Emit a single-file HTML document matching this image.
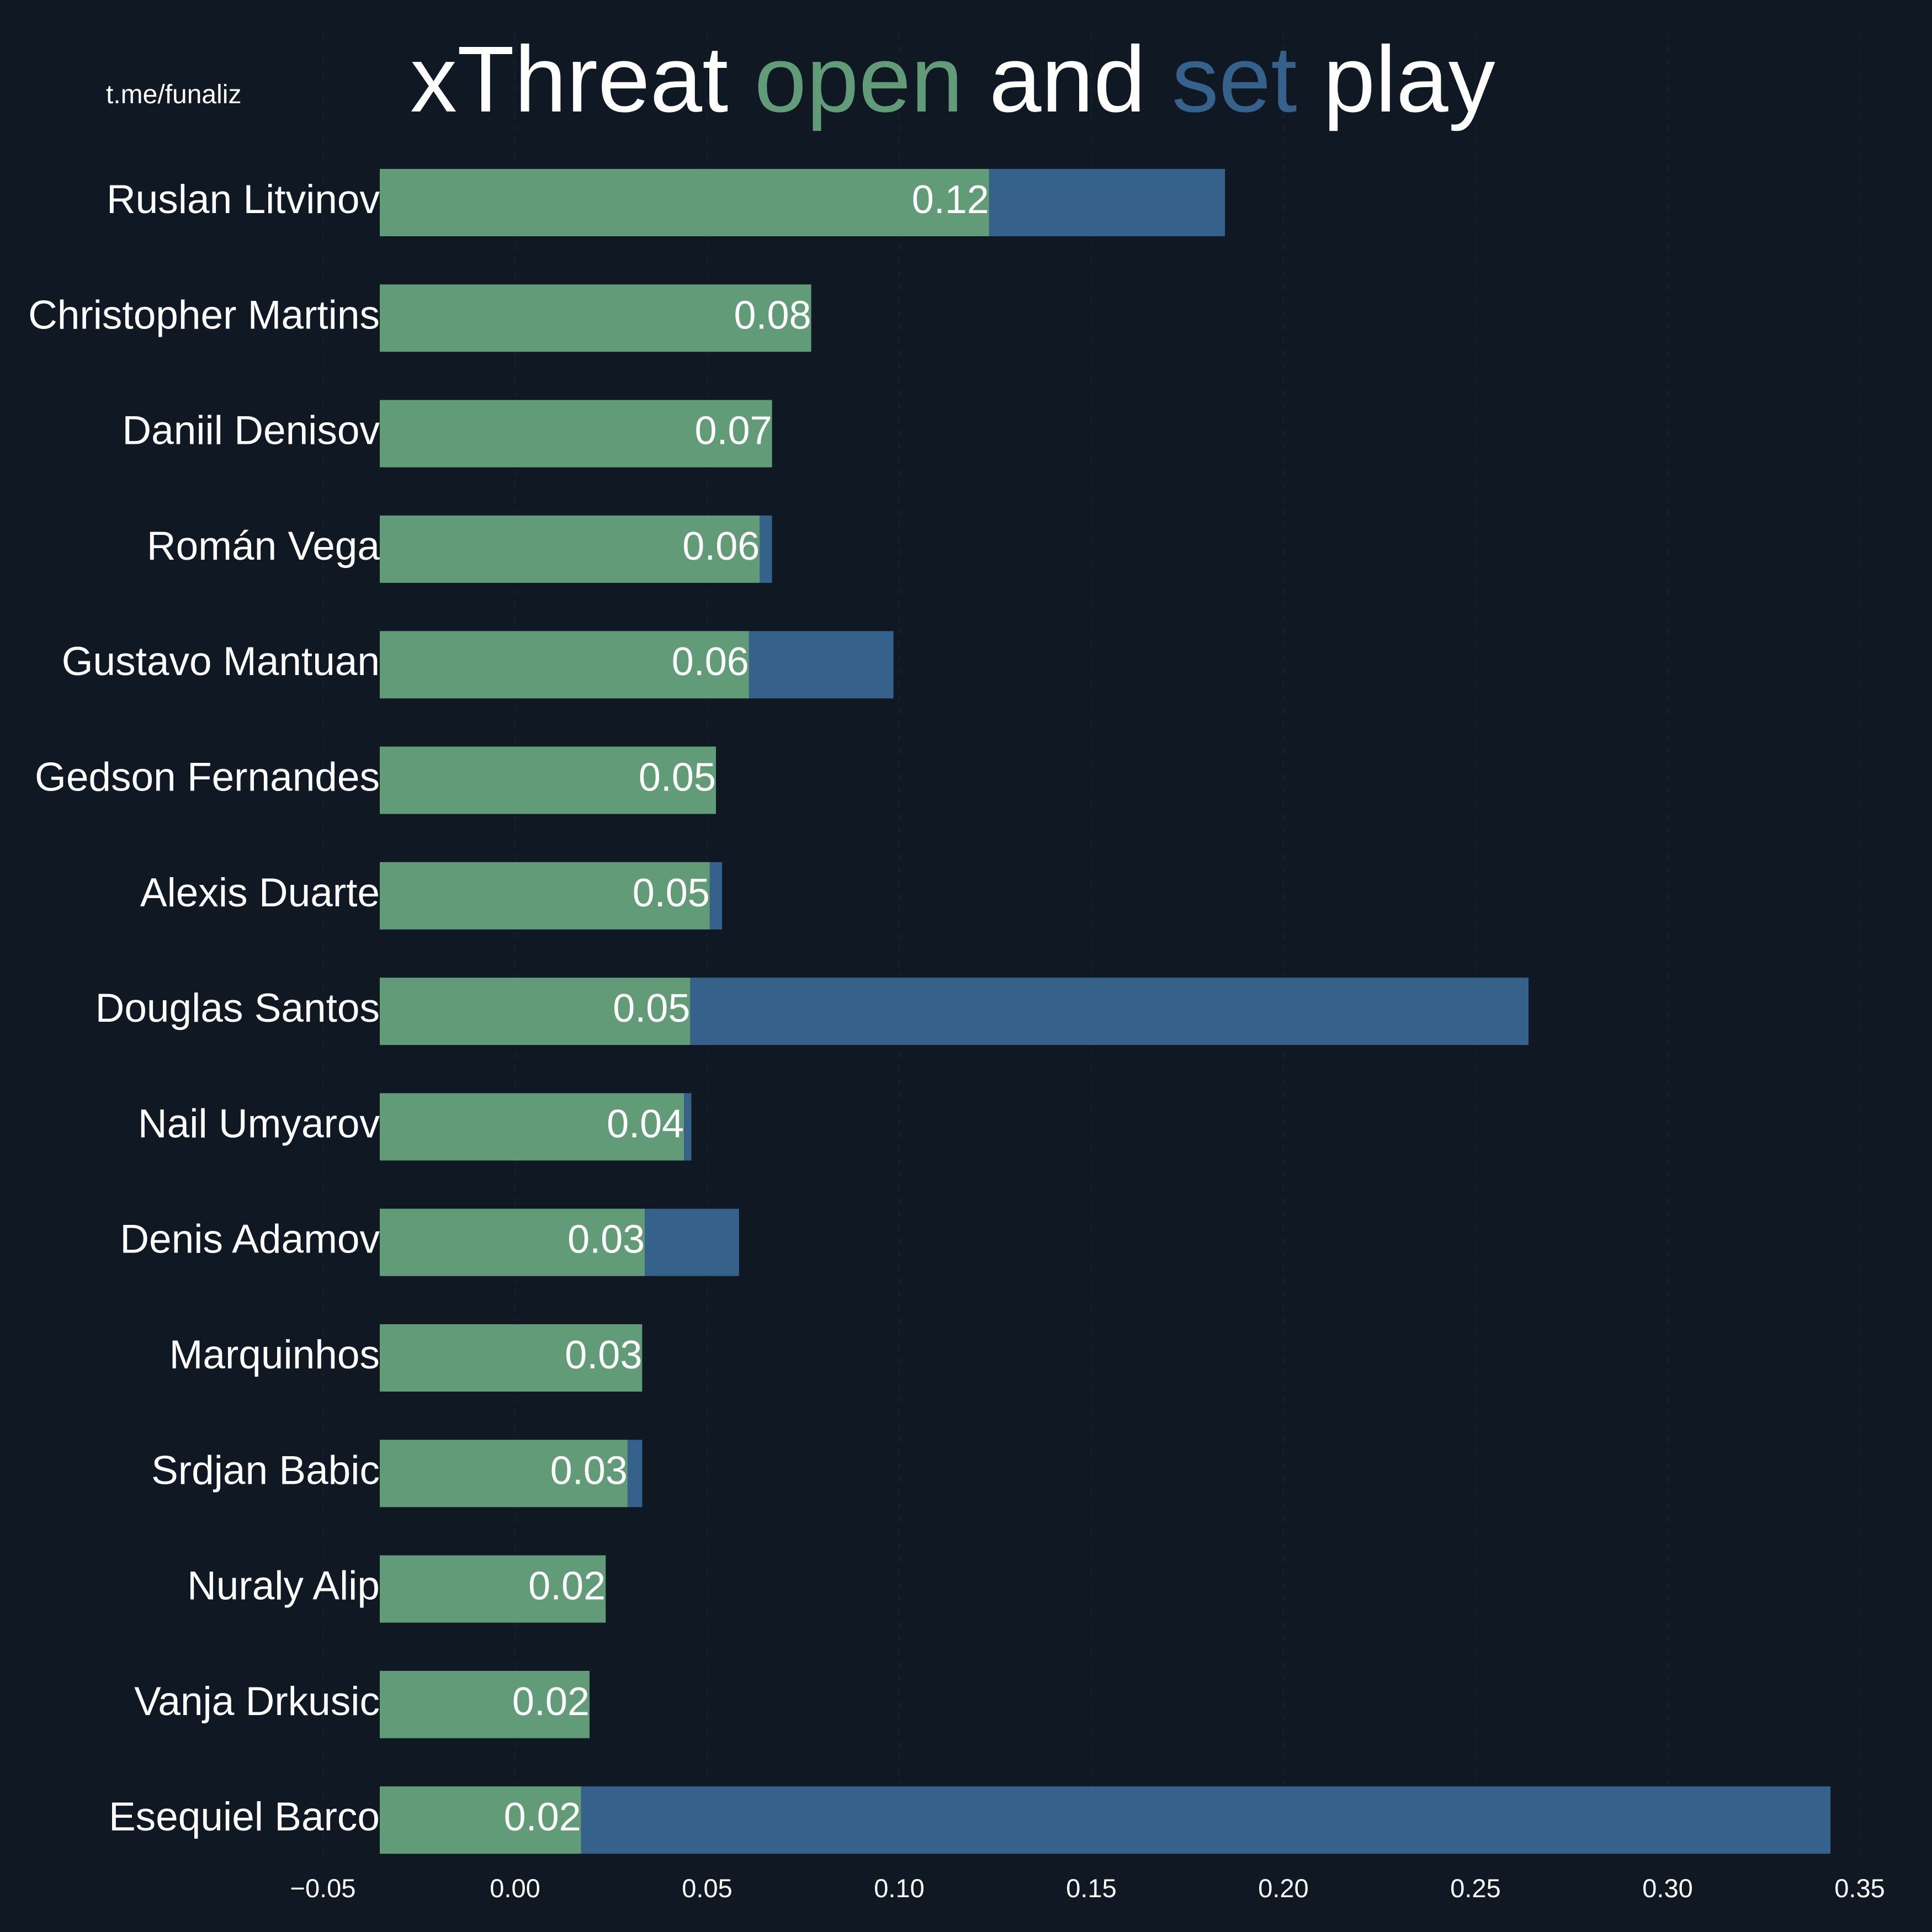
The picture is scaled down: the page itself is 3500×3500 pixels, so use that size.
<!DOCTYPE html>
<html><head><meta charset="utf-8">
<style>
html,body{margin:0;padding:0;background:#0f1823;}
svg{display:block;font-family:"Liberation Sans",sans-serif;}
</style></head>
<body>
<svg id="chart" width="3500" height="3500" viewBox="0 0 3500 3500" xmlns="http://www.w3.org/2000/svg">
<rect x="0" y="0" width="3500" height="3500" fill="#0f1823"/>
<g id="grid"></g>
<text x="192" y="187" font-size="48" fill="#ffffff">t.me/funaliz</text>
<text x="743" y="202" font-size="170" fill="#ffffff">xThreat <tspan fill="#619b77">open</tspan> and <tspan fill="#36618b">set</tspan> play</text>
<g id="bars"></g>
<g id="ylabels"></g>
<g id="xticks"></g>
</svg>
<script>
const players = ["Ruslan Litvinov","Christopher Martins","Daniil Denisov","Román Vega","Gustavo Mantuan","Gedson Fernandes","Alexis Duarte","Douglas Santos","Nail Umyarov","Denis Adamov","Marquinhos","Srdjan Babic","Nuraly Alip","Vanja Drkusic","Esequiel Barco"];
const openPlay = [0.1234,0.0771,0.0669,0.0637,0.0609,0.0523,0.0507,0.0456,0.0440,0.0338,0.0331,0.0293,0.0236,0.0194,0.0172];
const setPlay = [0.0614,0,0,0.0032,0.0376,0,0.0032,0.2182,0.0019,0.0245,0,0.0038,0,0,0.3252];
const xTicks = [-0.05,0,0.05,0.10,0.15,0.20,0.25,0.30,0.35];
const xTickLabels = ["\u22120.05","0.00","0.05","0.10","0.15","0.20","0.25","0.30","0.35"];

const NS="http://www.w3.org/2000/svg";
const xMin=-0.0352;
function xs(v){return 933+v*6960;}
function yc(i){return 367+i*209.3;}
const barH=122;
function mk(tag,attrs,parent){const e=document.createElementNS(NS,tag);for(const k in attrs)e.setAttribute(k,attrs[k]);parent.appendChild(e);return e;}
const grid=document.getElementById('grid'),bars=document.getElementById('bars'),yl=document.getElementById('ylabels'),xt=document.getElementById('xticks');

xTicks.forEach((t,j)=>{
  const g=mk('line',{x1:xs(t),x2:xs(t),y1:58,y2:3360,stroke:'#141e29','stroke-width':3,'stroke-dasharray':'12 12'},grid);
  
  
  const tx=mk('text',{x:xs(t),y:3437,'font-size':47,fill:'#ffffff','text-anchor':'middle'},xt);
  
  
  tx.textContent=xTickLabels[j];
});

players.forEach((p,i)=>{
  const y=yc(i)-barH/2;
  const x0=xs(xMin), x1=xs(openPlay[i]), x2=xs(openPlay[i]+setPlay[i]);
  const g=mk('rect',{x:x0,y:y,width:x1-x0,height:barH,fill:'#619b77'},bars);
  
  
  if(setPlay[i]>0){
    const b=mk('rect',{x:x1,y:y,width:x2-x1,height:barH,fill:'#36618b'},bars);
    
    
  }
  const v=mk('text',{x:x1,y:yc(i)+19,'font-size':72,fill:'#ffffff','text-anchor':'end'},bars);
  
  
  v.textContent=openPlay[i].toFixed(2);
  const n=mk('text',{x:688,y:yc(i)+19,'font-size':73,fill:'#ffffff','text-anchor':'end'},yl);
  
  
  n.textContent=p;
});
</script>
</body></html>
